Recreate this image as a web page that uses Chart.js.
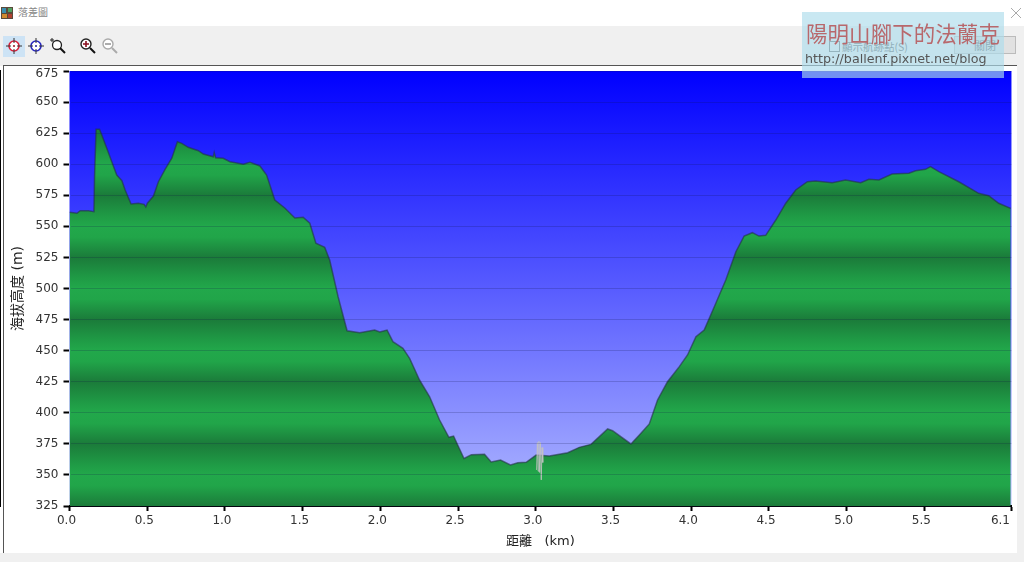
<!DOCTYPE html>
<html lang="zh-Hant">
<head>
<meta charset="utf-8">
<title>落差圖</title>
<script src="https://cdn.jsdelivr.net/npm/chart.js"></script>
<style>
    html, body { margin: 0; padding: 0; width: 1024px; height: 562px; overflow: hidden; background: #fff; }
    body { position: relative; font-family: "Noto Sans CJK TC", "DejaVu Sans", sans-serif; }

    .titlebar { position: absolute; left: 18px; top: 5px; font-size: 10px; line-height: 14px; color: #888; }
    .app-icon { position: absolute; left: 1px; top: 7px; width: 12px; height: 12px; }
    .close-x { position: absolute; left: 1010px; top: 7px; width: 12px; height: 12px; }

    .toolbar { position: absolute; left: 0; top: 26px; width: 1024px; height: 40px; background: #f0f0f0; }
    .tool-selected { position: absolute; left: 3px; top: 10px; width: 22px; height: 21px; background: #cde3f5; }
    .toolbar svg { position: absolute; top: 10px; width: 20px; height: 20px; }
    .track-toggle { position: absolute; left: 829px; top: 14px; font-size: 10.5px; line-height: 13px; color: #555; }
    .track-toggle i { display: inline-block; width: 9px; height: 9px; border: 1px solid #666; vertical-align: -1px; margin-right: 2px; }
    .close-btn { position: absolute; left: 954px; top: 10px; width: 62px; height: 18px; background: #e1e1e1; border: 1px solid #bbb; box-sizing: border-box; font-size: 11px; line-height: 16px; text-align: center; color: #555; }

    .frame { position: absolute; left: 3px; top: 65px; width: 1014px; height: 488px; background: #fff; border-top: 1px solid #555; border-left: 1px solid #555; box-sizing: border-box; }
    .footer { position: absolute; left: 0; top: 553px; width: 1024px; height: 9px; background: #f0f0f0; }
    .side { position: absolute; left: 1017px; top: 66px; width: 7px; height: 487px; background: #f0f0f0; }

    #profileChart { position: absolute; left: 0; top: 0; }

    .watermark { position: absolute; left: 802px; top: 12px; width: 202px; height: 66px; background: rgba(173, 220, 235, 0.66); }
    .watermark b { position: absolute; left: 4px; top: 6px; font-size: 21.5px; line-height: 30px; font-weight: 400; letter-spacing: 0.05px; color: #b8686c; white-space: nowrap; }
    .watermark span { position: absolute; left: 3px; top: 39px; font-family: "DejaVu Sans", sans-serif; font-size: 12.7px; line-height: 16px; color: #555; white-space: nowrap; }
</style>
</head>
<body>

<svg class="app-icon" viewBox="0 0 12 12">
    <rect width="12" height="12" fill="#5a4a3a"/>
    <rect x="1" y="1" width="4" height="5" fill="#3a8fb0"/>
    <rect x="7" y="1" width="4" height="4" fill="#50a060"/>
    <rect x="1" y="7" width="5" height="4" fill="#d08a30"/>
    <rect x="7" y="7" width="4" height="4" fill="#b04030"/>
</svg>
<div class="titlebar">落差圖</div>
<svg class="close-x" viewBox="0 0 12 12"><path d="M1 1L11 11M11 1L1 11" stroke="#aaa" stroke-width="1"/></svg>

<div class="toolbar">
    <div class="tool-selected"></div>
    <svg style="left:4px" viewBox="0 0 20 20"><circle cx="10" cy="10" r="5" fill="#fff" stroke="#d8203a" stroke-width="1.6"/><path d="M10 2V7M10 13V18M2 10H7M13 10H18" stroke="#333" stroke-width="1"/><path d="M9 10H11M10 9V11" stroke="#a01020" stroke-width="1"/></svg>
    <svg style="left:26px" viewBox="0 0 20 20"><circle cx="10" cy="10" r="5" fill="#fff" stroke="#2828c0" stroke-width="1.6"/><path d="M10 2V7M10 13V18M2 10H7M13 10H18" stroke="#333" stroke-width="1"/><path d="M9 10H11M10 9V11" stroke="#2020a0" stroke-width="1"/></svg>
    <svg style="left:49px" viewBox="0 0 20 20"><circle cx="8" cy="9" r="4.5" fill="#fff" stroke="#222" stroke-width="1.3"/><path d="M11 12L16 17" stroke="#111" stroke-width="2"/><path d="M3 2V6M1 4H5" stroke="#222" stroke-width="1"/></svg>
    <svg style="left:78px" viewBox="0 0 20 20"><circle cx="8" cy="8" r="5" fill="#fff" stroke="#222" stroke-width="1.4"/><path d="M8 5V11M5 8H11" stroke="#8b1020" stroke-width="1.6"/><path d="M12 12L17 17" stroke="#111" stroke-width="2"/></svg>
    <svg style="left:100px" viewBox="0 0 20 20"><circle cx="8" cy="8" r="5" fill="#fff" stroke="#aaa" stroke-width="1.4"/><path d="M5 8H11" stroke="#999" stroke-width="1.6"/><path d="M12 12L17 17" stroke="#aaa" stroke-width="2"/></svg>
    <div class="track-toggle"><i></i>顯示航跡點(S)</div>
    <div class="close-btn">關閉</div>
</div>

<div class="frame"></div>
<div class="side"></div>
<div class="footer"></div>

<canvas id="profileChart" width="1024" height="562"></canvas>

<div class="watermark">
    <b>陽明山腳下的法蘭克</b>
    <span>http://ballenf.pixnet.net/blog</span>
</div>

<script>
/* ==========================================
   DATA
========================================== */

const distanceKm = [
    0, 0.048, 0.069, 0.122, 0.157, 0.161, 0.171, 0.193, 0.208, 0.240,
    0.272, 0.304, 0.337, 0.358, 0.396, 0.443, 0.480, 0.491, 0.501, 0.540,
    0.572, 0.615, 0.658, 0.694, 0.722, 0.764, 0.829, 0.861, 0.925, 0.931,
    0.940, 0.989, 1.032, 1.118, 1.161, 1.225, 1.268, 1.321, 1.385, 1.450,
    1.503, 1.546, 1.585, 1.642, 1.674, 1.728, 1.786, 1.867, 1.963, 1.996,
    2.043, 2.081, 2.145, 2.188, 2.252, 2.317, 2.381, 2.441, 2.471, 2.538,
    2.585, 2.670, 2.713, 2.773, 2.837, 2.884, 2.938, 3.002, 3.087, 3.205,
    3.280, 3.355, 3.462, 3.494, 3.612, 3.666, 3.730, 3.783, 3.847, 3.923,
    3.976, 4.030, 4.083, 4.158, 4.222, 4.287, 4.340, 4.393, 4.436, 4.479,
    4.544, 4.608, 4.672, 4.747, 4.800, 4.907, 4.993, 5.090, 5.143, 5.207,
    5.292, 5.400, 5.443, 5.507, 5.539, 5.593, 5.721, 5.849, 5.914, 5.978,
    6.055
];

const elevationM = [
    561.3, 560.5, 562.6, 562.6, 561.8, 589.7, 628.1, 628.1, 623.5, 612.8,
    602.0, 591.3, 586.7, 579.3, 568.0, 568.6, 567.7, 565.6, 568.6, 574.4,
    585.9, 595.9, 604.8, 618.1, 616.8, 613.6, 610.9, 608.2, 606.0, 609.3,
    605.2, 604.8, 602.0, 599.9, 601.5, 598.6, 591.3, 571.2, 564.8, 556.7,
    557.3, 552.5, 536.4, 533.1, 522.9, 493.4, 466.0, 464.4, 466.6, 465.0,
    466.6, 457.2, 451.9, 443.8, 426.4, 412.9, 394.2, 380.3, 381.3, 363.2,
    366.3, 366.6, 360.4, 362.0, 358.0, 359.8, 360.2, 366.0, 365.2, 367.9,
    372.2, 374.6, 387.0, 385.6, 374.9, 382.1, 391.0, 410.3, 425.0, 437.1,
    446.5, 461.2, 466.6, 488.1, 506.8, 529.6, 542.2, 544.9, 542.2, 542.8,
    555.1, 568.6, 579.3, 585.9, 586.5, 585.1, 587.3, 585.1, 587.9, 587.3,
    592.1, 592.7, 594.8, 595.9, 598.0, 594.0, 585.9, 576.6, 574.7, 568.6,
    564.5
];

// GPS glitch near 3 km, shows up as a grey smear in the profile
const glitchKm = [3.005, 3.010, 3.015, 3.020, 3.025, 3.030, 3.035, 3.040, 3.045];
const glitchM = [354, 376, 353, 377, 352, 376, 346, 372, 360];

const xTickValues = [0, 0.5, 1, 1.5, 2, 2.5, 3, 3.5, 4, 4.5, 5, 5.5, 6.06];
const xTickLabels = ["0.0", "0.5", "1.0", "1.5", "2.0", "2.5", "3.0", "3.5", "4.0", "4.5", "5.0", "5.5", "6.1"];
const yTickValues = [325, 350, 375, 400, 425, 450, 475, 500, 525, 550, 575, 600, 625, 650, 675];

/* ==========================================
   GRADIENTS
========================================== */

function skyGradient(ctx, area) {
    const gradient = ctx.createLinearGradient(0, area.top, 0, area.bottom);
    gradient.addColorStop(0, "#0000ff");
    gradient.addColorStop(1, "#b0b8ff");
    return gradient;
}

function groundGradient(chart) {
    const area = chart.chartArea;
    const gradient = chart.ctx.createLinearGradient(0, area.top, 0, area.bottom);
    const band = 1 / (yTickValues.length - 1);

    // one dark/bright band every 50 m, counted from the axis top
    yTickValues.forEach((value, i) => {
        const offset = i * band;
        if (i % 2 === 0) {
            gradient.addColorStop(offset, "#1b7b3a");
        } else {
            gradient.addColorStop(offset - band * 0.35, "#1f9a45");
            gradient.addColorStop(offset, "#22a84b");
            gradient.addColorStop(offset + band * 0.35, "#21a549");
        }
    });

    return gradient;
}

/* ==========================================
   PLUGINS
========================================== */

const skyPlugin = {
    id: "sky",
    beforeDraw(chart) {
        const { ctx, chartArea: area } = chart;
        ctx.save();
        ctx.fillStyle = skyGradient(ctx, area);
        ctx.fillRect(area.left, area.top, area.right - area.left, area.bottom - area.top);
        ctx.restore();
    }
};

// the original app keeps its end labels inside the plot
const labelNudgePlugin = {
    id: "labelNudge",
    beforeDraw(chart) {
        const xItems = chart.scales.x.getLabelItems(chart.chartArea);
        const yItems = chart.scales.y.getLabelItems(chart.chartArea);
        xItems[xItems.length - 1].options.translation[0] -= 8;
        yItems[yItems.length - 1].options.translation[1] += 3;
    }
};

/* ==========================================
   CHART
========================================== */

function initializeProfileChart() {

    const canvas = document.getElementById("profileChart");

    if (!canvas) return;

    const tickFont = { family: '"DejaVu Sans", sans-serif', size: 12 };

    new Chart(canvas, {
        type: "line",

        data: {
            datasets: [{
                label: "海拔高度",
                data: distanceKm.map((km, i) => ({ x: km, y: elevationM[i] })),
                borderColor: "rgba(35, 50, 70, 0.6)",
                borderWidth: 1.5,
                backgroundColor: context => context.chart.chartArea ? groundGradient(context.chart) : "#22a84b",
                fill: "start",
                tension: 0,
                pointRadius: 0,
                order: 2
            }, {
                label: "glitch",
                data: glitchKm.map((km, i) => ({ x: km, y: glitchM[i] })),
                borderColor: "rgba(195, 195, 195, 0.8)",
                borderWidth: 1,
                fill: false,
                tension: 0,
                pointRadius: 0,
                order: 1
            }]
        },

        options: {
            responsive: false,
            animation: false,
            layout: {
                padding: { left: 0, right: 11.5, top: 71, bottom: 6 }
            },
            plugins: {
                legend: { display: false },
                tooltip: { enabled: false }
            },
            scales: {
                x: {
                    type: "linear",
                    min: 0,
                    max: 6.06,
                    afterBuildTicks: scale => {
                        scale.ticks = xTickValues.map(value => ({ value }));
                    },
                    afterFit: scale => {
                        scale.height = 50;
                    },
                    ticks: {
                        autoSkip: false,
                        maxRotation: 0,
                        color: "#333",
                        font: tickFont,
                        padding: 3,
                        labelOffset: -3,
                        callback: (value, index) => xTickLabels[index]
                    },
                    grid: {
                        drawOnChartArea: false,
                        tickColor: "#000",
                        tickLength: 5,
                        tickWidth: 2
                    },
                    border: { color: "#000", width: 2 },
                    title: {
                        display: true,
                        text: "距離   (km)",
                        color: "#222",
                        font: { family: '"DejaVu Sans", "Noto Sans CJK TC", sans-serif', size: 13 },
                        padding: { top: 0, bottom: 7 }
                    }
                },
                y: {
                    type: "linear",
                    min: 325,
                    max: 675,
                    afterBuildTicks: scale => {
                        scale.ticks = yTickValues.map(value => ({ value }));
                    },
                    afterFit: scale => {
                        scale.width = 69.5;
                    },
                    ticks: {
                        autoSkip: false,
                        color: "#333",
                        font: tickFont,
                        padding: 5
                    },
                    grid: {
                        z: 1,
                        color: "rgba(15, 20, 70, 0.2)",
                        tickColor: "#000",
                        tickLength: 6,
                        tickWidth: 2
                    },
                    border: { color: "#000", width: 2 },
                    title: {
                        display: true,
                        text: "海拔高度 (m)",
                        color: "#222",
                        font: { family: '"DejaVu Sans", "Noto Sans CJK TC", sans-serif', size: 14 },
                        padding: { top: 10, bottom: 0 }
                    }
                }
            }
        },

        plugins: [skyPlugin, labelNudgePlugin]
    });

}

document.addEventListener("DOMContentLoaded", initializeProfileChart);
</script>
</body>
</html>
